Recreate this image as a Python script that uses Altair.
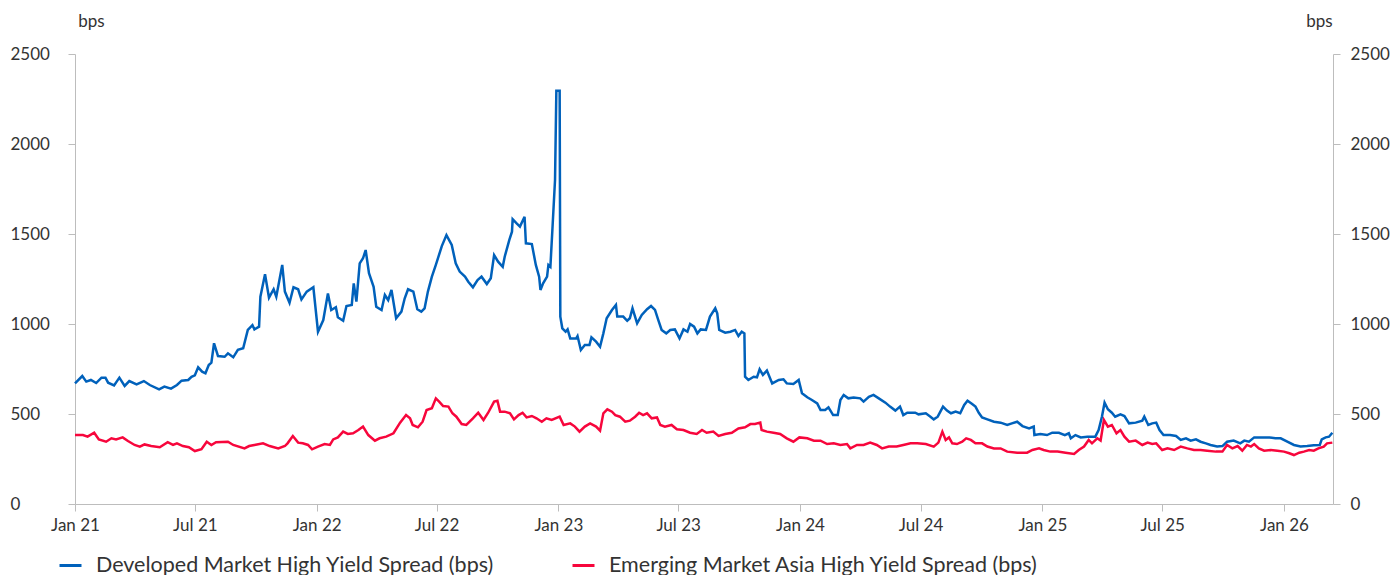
import altair as alt
import pandas as pd

START = pd.Timestamp("2021-01-01")
END = pd.Timestamp("2026-03-16")

DM_NAME = "Developed Market High Yield Spread (bps)"
EM_NAME = "Emerging Market Asia High Yield Spread (bps)"

# Days since 2021-01-01 and spread in bps
dm_days = [0, 11, 17, 24, 32, 40, 46, 50, 59, 67, 75, 82, 93, 104, 113, 127, 135, 145, 154, 161,
           171, 176, 181, 186, 192, 197, 202, 206, 210, 216, 226, 231, 239, 246, 254, 261, 268, 271,
           278, 280, 287, 293, 300, 304, 313, 317, 324, 330, 337, 342, 350, 360, 367, 375, 382, 387,
           394, 397, 405, 410, 418, 421, 425, 430, 435, 439, 444, 451, 455, 463, 468, 473, 478, 485,
           493, 498, 503, 511, 517, 523, 528, 533, 539, 545, 554, 561, 569, 575, 581, 589, 594, 601,
           608, 614, 622, 628, 633, 639, 646, 649, 656, 660, 661, 667, 672, 679, 681, 690, 696, 701,
           703, 707, 713, 715, 718, 721, 725, 727, 732, 733, 736, 741, 744, 748, 757, 759, 764, 770,
           777, 780, 787, 793, 798, 803, 811, 817, 819, 828, 834, 838, 842, 849, 856, 864, 870, 876,
           881, 886, 893, 899, 906, 913, 919, 925, 929, 935, 940, 945, 953, 959, 967, 970, 973, 982,
           990, 997, 1002, 1007, 1011, 1012, 1017, 1025, 1030, 1034, 1039, 1045, 1053, 1063, 1070,
           1075, 1085, 1093, 1098, 1106, 1113, 1121, 1126, 1133, 1138, 1145, 1152, 1156, 1161, 1168,
           1176, 1186, 1191, 1199, 1206, 1214, 1224, 1231, 1239, 1246, 1251, 1257, 1269, 1274, 1285,
           1292, 1297, 1303, 1311, 1317, 1323, 1330, 1337, 1343, 1348, 1355, 1360, 1365, 1370, 1378,
           1388, 1398, 1408, 1415, 1423, 1431, 1441, 1448, 1449, 1458, 1468, 1476, 1486, 1495, 1501,
           1504, 1511, 1519, 1529, 1541, 1546, 1551, 1555, 1560, 1566, 1571, 1579, 1585, 1592, 1602,
           1612, 1615, 1621, 1627, 1633, 1638, 1644, 1654, 1663, 1670, 1678, 1685, 1693, 1700, 1708,
           1715, 1725, 1733, 1740, 1750, 1760, 1766, 1773, 1781, 1791, 1804, 1813, 1821, 1831, 1841,
           1851, 1861, 1871, 1880, 1883, 1889, 1894, 1899]
dm_bps = [670, 711, 680, 689, 672, 702, 702, 674, 659, 702, 656, 683, 665, 683, 661, 637, 652, 641, 661, 685,
          689, 707, 715, 759, 735, 726, 772, 785, 893, 822, 818, 837, 815, 856, 865, 967, 994, 970,
          985, 1152, 1276, 1146, 1193, 1152, 1328, 1180, 1118, 1204, 1193, 1137, 1180, 1204, 957, 1022, 1170, 1078,
          1093, 1037, 1018, 1100, 1106, 1226, 1124, 1337, 1365, 1411, 1282, 1207, 1096, 1078, 1161, 1133, 1189, 1032,
          1069, 1143, 1193, 1180, 1082, 1069, 1087, 1180, 1263, 1328, 1433, 1494, 1439, 1337, 1291, 1263, 1235, 1204,
          1244, 1263, 1222, 1254, 1383, 1346, 1318, 1374, 1467, 1513, 1582, 1559, 1541, 1596, 1448, 1444, 1328, 1263,
          1189, 1226, 1263, 1328, 1318, 1522, 1800, 2296, 2296, 1041, 976, 957, 970, 920, 920, 933, 856, 883,
          883, 926, 902, 874, 948, 1032, 1078, 1106, 1041, 1041, 1018, 1032, 1087, 1004, 1050, 1082, 1100, 1078,
          1022, 967, 948, 967, 970, 920, 970, 957, 1000, 985, 948, 970, 967, 1041, 1087, 1059, 967, 952,
          957, 967, 933, 957, 948, 707, 689, 707, 704, 748, 717, 741, 670, 689, 693,
          670, 667, 689, 615, 593, 578, 559, 522, 522, 537, 494, 494, 578, 606, 587,
          591, 587, 569, 596, 606, 587, 563, 541, 519, 541, 494, 507, 507, 498, 504,
          485, 470, 485, 541, 519, 504, 513, 504, 550, 574, 556, 541, 507, 481, 470,
          457, 452, 439, 448, 457, 433, 420, 430, 383, 389, 383, 396, 396, 383, 393,
          365, 383, 370, 374, 374, 411, 485, 563, 526, 507, 485, 498, 489, 448, 452,
          463, 485, 439, 448, 452, 411, 383, 383, 378, 356, 365, 352, 359, 346, 337,
          328, 319, 322, 346, 352, 337, 352, 346, 370, 370, 370, 365, 365, 346, 328,
          319, 322, 326, 328, 359, 370, 374, 396]

em_days = [0, 12, 19, 29, 36, 47, 55, 62, 72, 80, 90, 98, 105, 115, 128, 140, 148, 154, 163, 172,
           181, 191, 199, 206, 213, 231, 239, 256, 263, 271, 284, 294, 307, 317, 321, 329, 337, 344,
           352, 358, 367, 377, 385, 390, 397, 405, 412, 420, 428, 435, 443, 453, 460, 470, 481, 491,
           500, 506, 510, 518, 525, 531, 539, 545, 550, 556, 564, 570, 576, 584, 591, 601, 609, 617,
           624, 633, 638, 642, 649, 657, 663, 670, 676, 682, 690, 697, 705, 712, 720, 732, 738, 748,
           755, 762, 770, 778, 787, 793, 798, 804, 811, 816, 823, 831, 838, 846, 852, 858, 864, 871,
           879, 884, 891, 901, 909, 919, 929, 939, 947, 954, 964, 972, 982, 992, 1002, 1012, 1020,
           1027, 1035, 1037, 1045, 1055, 1065, 1075, 1085, 1094, 1106, 1116, 1126, 1136, 1146, 1156,
           1166, 1171, 1181, 1191, 1201, 1211, 1219, 1229, 1241, 1251, 1262, 1272, 1285, 1297, 1304,
           1310, 1315, 1320, 1325, 1332, 1340, 1346, 1353, 1360, 1370, 1378, 1388, 1398, 1408, 1423,
           1438, 1446, 1456, 1463, 1473, 1484, 1496, 1509, 1516, 1524, 1531, 1536, 1544, 1549, 1554,
           1560, 1566, 1573, 1579, 1585, 1592, 1602, 1612, 1620, 1627, 1633, 1642, 1650, 1660, 1670,
           1680, 1690, 1700, 1710, 1723, 1733, 1740, 1748, 1756, 1763, 1770, 1776, 1781, 1788, 1796,
           1806, 1816, 1826, 1834, 1841, 1849, 1856, 1864, 1871, 1878, 1886, 1891, 1899]
em_bps = [383, 383, 374, 396, 359, 346, 365, 359, 370, 350, 328, 319, 331, 322, 315, 343, 328, 337, 322, 315,
          294, 304, 346, 328, 343, 346, 328, 309, 322, 328, 337, 322, 309, 322, 337, 378, 341, 337,
          328, 304, 319, 333, 328, 359, 370, 402, 389, 393, 411, 430, 383, 352, 365, 374, 393, 452,
          494, 476, 439, 426, 457, 522, 532, 587, 569, 544, 541, 504, 485, 444, 439, 476, 507, 467,
          507, 569, 574, 513, 513, 504, 470, 494, 507, 481, 489, 476, 457, 476, 467, 485, 439, 448,
          430, 402, 430, 448, 430, 407, 504, 526, 513, 494, 485, 457, 463, 485, 507, 494, 504, 476,
          481, 439, 430, 439, 415, 411, 396, 389, 411, 396, 402, 378, 389, 396, 420, 426, 444,
          444, 452, 411, 402, 396, 389, 365, 346, 370, 365, 352, 352, 333, 337, 328,
          333, 309, 328, 328, 341, 328, 309, 319, 319, 328, 337, 337, 333, 319, 341,
          402, 356, 370, 337, 333, 346, 365, 356, 337, 337, 319, 309, 309, 291, 285,
          285, 300, 309, 300, 291, 291, 285, 278, 300, 319, 356, 337, 365, 352, 467,
          430, 439, 393, 411, 374, 346, 352, 328, 341, 333, 337, 300, 309, 300, 319,
          309, 300, 300, 296, 291, 291, 328, 309, 322, 296, 328, 319, 333, 309, 296,
          300, 296, 291, 282, 272, 285, 291, 300, 296, 309, 319, 337, 341]

df = pd.concat([
    pd.DataFrame({"date": START + pd.to_timedelta(dm_days, unit="D"), "bps": dm_bps, "series": DM_NAME}),
    pd.DataFrame({"date": START + pd.to_timedelta(em_days, unit="D"), "bps": em_bps, "series": EM_NAME}),
])

BLUE = "#0061BB"
RED = "#F7063C"
AXIS_GREY = "#BDBDBD"
TEXT = "#333333"
FONT = "Lato"
AXIS_FS = 17

tick_dates = [pd.Timestamp(y, m, 1) for y in range(2021, 2027) for m in (1, 7)
              if pd.Timestamp(y, m, 1) <= END]

x_enc = alt.X(
    "date:T",
    scale=alt.Scale(domain=[START.isoformat(), END.isoformat()]),
    axis=alt.Axis(
        values=[d.isoformat() for d in tick_dates], format="%b %y", title=None,
        grid=False, domainColor=AXIS_GREY, tickColor=AXIS_GREY, tickSize=7,
        labelFontSize=AXIS_FS, labelColor=TEXT, labelFont=FONT, labelPadding=6,
        labelFlush=False,
    ),
)

y_scale = alt.Scale(domain=[0, 2500], nice=False)
y_values = [0, 500, 1000, 1500, 2000, 2500]

color_enc = alt.Color(
    "series:N",
    scale=alt.Scale(domain=[DM_NAME, EM_NAME], range=[BLUE, RED]),
    legend=alt.Legend(
        title=None, orient="none", direction="horizontal", legendX=-17, legendY=499,
        symbolType="stroke", symbolStrokeWidth=3, symbolSize=484,
        labelFontSize=21.5, labelColor=TEXT, labelFont=FONT, labelOffset=13,
        columnPadding=71, labelLimit=700,
    ),
)


def y_axis(orient, title_x, label_padding):
    return alt.Axis(
        orient=orient, values=y_values, format="d", title="bps", titleAngle=0,
        titleX=title_x, titleY=-33, titleAlign="center", titleBaseline="middle",
        titleFontSize=AXIS_FS, titleFontWeight="normal", titleColor=TEXT, titleFont=FONT,
        grid=False, domainColor=AXIS_GREY, tickColor=AXIS_GREY, tickSize=7,
        labelAlign="left", labelPadding=label_padding, labelFontSize=AXIS_FS,
        labelColor=TEXT, labelFont=FONT,
    )


dm_line = alt.Chart(df).transform_filter(alt.datum.series == DM_NAME).mark_line(
    strokeWidth=2.5
).encode(
    x=x_enc,
    y=alt.Y("bps:Q", scale=y_scale, axis=y_axis("left", 16, 58)),
    color=color_enc,
)

em_line = alt.Chart(df).transform_filter(alt.datum.series == EM_NAME).mark_line(
    strokeWidth=2.5
).encode(
    x=x_enc,
    y=alt.Y("bps:Q", scale=y_scale, axis=y_axis("right", -14, 10)),
    color=color_enc,
)

chart = alt.layer(dm_line, em_line).resolve_scale(y="independent").properties(
    width=1258, height=450,
    autosize=alt.AutoSizeParams(type="none"),
    padding={"left": 75, "top": 54, "right": 60, "bottom": 71},
    background="white",
).configure_view(stroke=None)

chart.save("out.html", embed_options={"renderer": "svg", "actions": False})
